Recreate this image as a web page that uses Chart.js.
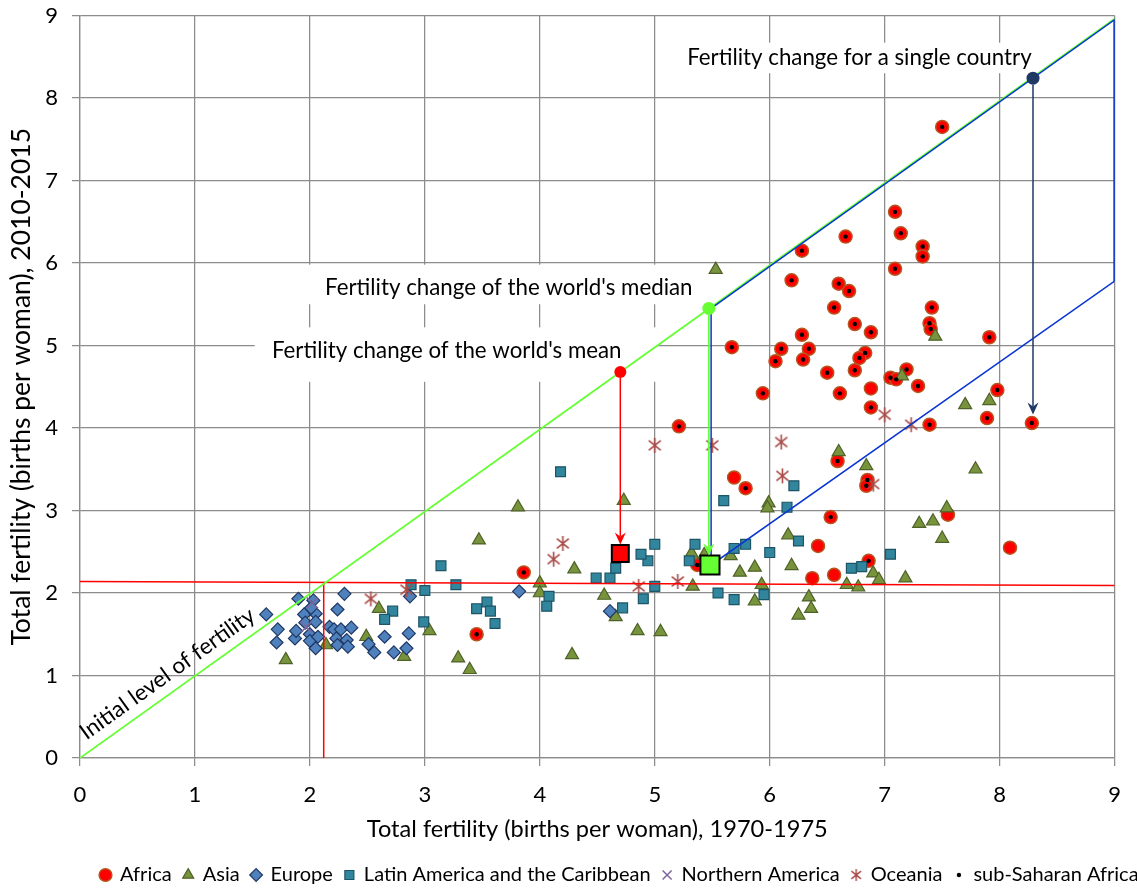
<!DOCTYPE html>
<html>
<head>
<meta charset="utf-8">
<script src="https://cdn.jsdelivr.net/npm/chart.js@4.4.1/dist/chart.umd.min.js"></script>
<style>
  html, body { margin: 0; padding: 0; background: #fff; }
  #wrap { width: 1137px; height: 888px; }
</style>
</head>
<body>
<div id="wrap"><canvas id="chart" width="1137" height="888"></canvas></div>
<script>
// ---- Axis ticks -------------------------------------------------------
const xTicks = [0, 1, 2, 3, 4, 5, 6, 7, 8, 9];
const yTicks = [0, 1, 2, 3, 4, 5, 6, 7, 8, 9];

// ---- Countries: [TFR 1970-1975, TFR 2010-2015] --------------------------
const africaSubSaharan = [
  [7.50, 7.65], [7.09, 6.62], [7.14, 6.36], [6.66, 6.32], [6.28, 6.15], [7.33, 6.20], [7.33, 6.08],
  [7.09, 5.93], [6.19, 5.79], [6.60, 5.75], [6.69, 5.66], [6.56, 5.46], [7.41, 5.46], [6.74, 5.26],
  [7.39, 5.27], [7.40, 5.20], [6.88, 5.16], [6.28, 5.13], [5.67, 4.98], [6.10, 4.96], [6.34, 4.96],
  [6.05, 4.81], [6.29, 4.83], [6.83, 4.91], [6.78, 4.85], [6.74, 4.70], [6.50, 4.67], [7.05, 4.61],
  [7.10, 4.59], [7.19, 4.71], [7.29, 4.51], [5.94, 4.42], [6.61, 4.42], [6.88, 4.25], [5.21, 4.02],
  [7.39, 4.04], [7.91, 5.10], [7.98, 4.46], [7.89, 4.12], [8.28, 4.06], [6.59, 3.60], [6.85, 3.37],
  [6.84, 3.30], [5.79, 3.27], [6.53, 2.92], [6.86, 2.39], [5.37, 2.34], [3.86, 2.25], [3.45, 1.50]
];
const africaNorthern = [
  [6.88, 4.48], [5.69, 3.40], [6.42, 2.57], [6.37, 2.18], [6.56, 2.22], [7.55, 2.95], [8.09, 2.55]
];
const asia = [
  [5.53, 5.92], [7.44, 5.11], [7.15, 4.63], [7.70, 4.28], [7.91, 4.33], [7.79, 3.50], [6.60, 3.71],
  [6.84, 3.54], [7.54, 3.03], [7.30, 2.84], [7.42, 2.87], [7.50, 2.66], [5.99, 3.09], [5.98, 3.03],
  [4.73, 3.12], [3.81, 3.04], [3.47, 2.64], [4.30, 2.29], [6.16, 2.70], [6.19, 2.33], [6.34, 1.95],
  [6.36, 1.81], [6.25, 1.73], [6.67, 2.10], [6.77, 2.07], [6.90, 2.24], [6.95, 2.16], [7.18, 2.18],
  [5.87, 2.31], [5.74, 2.25], [5.93, 2.10], [5.87, 1.90], [5.32, 2.48], [5.43, 2.46], [5.66, 2.45],
  [5.33, 2.08], [4.56, 1.97], [4.66, 1.71], [4.85, 1.54], [5.05, 1.53], [4.28, 1.25], [3.29, 1.21],
  [3.39, 1.07], [4.00, 2.12], [4.00, 2.00], [3.04, 1.54], [2.82, 1.23], [2.60, 1.81], [2.49, 1.47],
  [2.14, 1.37], [1.79, 1.19]
];
const europe = [
  [1.62, 1.74], [1.72, 1.56], [1.71, 1.40], [1.87, 1.45], [1.90, 1.93], [1.88, 1.54], [2.03, 1.91],
  [1.95, 1.74], [2.05, 1.75], [1.96, 1.64], [2.05, 1.65], [2.00, 1.50], [2.00, 1.42], [2.07, 1.47],
  [2.05, 1.33], [2.17, 1.59], [2.21, 1.56], [2.27, 1.56], [2.36, 1.58], [2.23, 1.45], [2.32, 1.43],
  [2.24, 1.37], [2.33, 1.35], [2.30, 1.99], [2.24, 1.80], [2.51, 1.38], [2.56, 1.28], [2.65, 1.47],
  [2.73, 1.28], [2.84, 1.33], [2.86, 1.51], [2.87, 1.96], [3.82, 2.02], [4.61, 1.78], [2.01, 1.82]
];
const latinAmerica = [
  [4.18, 3.47], [6.21, 3.30], [5.60, 3.12], [6.15, 3.04], [6.25, 2.63], [7.05, 2.47], [6.71, 2.30],
  [6.80, 2.32], [6.00, 2.49], [5.95, 1.98], [5.69, 1.92], [5.55, 2.00], [5.79, 2.59], [5.69, 2.54],
  [5.00, 2.59], [4.94, 2.39], [5.35, 2.59], [5.30, 2.39], [4.90, 1.93], [5.00, 2.08], [4.88, 2.47],
  [4.49, 2.18], [4.61, 2.18], [4.66, 2.30], [4.72, 1.82], [4.08, 1.96], [4.06, 1.84], [3.54, 1.89],
  [3.45, 1.81], [3.57, 1.78], [3.61, 1.63], [2.99, 1.65], [3.27, 2.10], [2.88, 2.10], [3.00, 2.03],
  [3.14, 2.33], [2.72, 1.78], [2.65, 1.68]
];
const northernAmerica = [[2.02, 1.88], [1.97, 1.59]];
const oceania = [
  [2.53, 1.93], [2.84, 2.04], [4.12, 2.41], [4.20, 2.60], [4.86, 2.08], [5.20, 2.14], [5.00, 3.79],
  [5.50, 3.79], [6.10, 3.83], [6.11, 3.42], [7.00, 4.16], [7.23, 4.04], [6.90, 3.32]
];

// ---- Summary changes: [start point, end point] -----------------------
const worldMean = [[4.70, 4.68], [4.70, 2.48]];
const worldMedian = [[5.47, 5.45], [5.48, 2.34]];
const singleCountry = [[8.29, 8.24], [8.29, 4.06]];

// ---- Reference lines -----------------------------------------------------
const initialLevelLine = [[0, 0], [9, 8.96]];
const replacementLevelH = [[0, 2.14], [9, 2.09]];
const replacementLevelV = [[2.12, 0], [2.12, 2.13]];
const medianBand = [[5.49, 5.45], [9, 8.95], [9, 5.78], [5.49, 2.34], [5.49, 5.45]];
const medianBandEdge = [[9, 8.95], [9, 5.78]];

const legendLabels = ['Africa', 'Asia', 'Europe', 'Latin America and the Caribbean',
  'Northern America', 'Oceania', 'sub-Saharan Africa'];

const FONT = 'Lato, "Open Sans", "DejaVu Sans", sans-serif';
const pts = arr => arr.map(([x, y]) => ({ x, y }));

// Excel-like asterisk marker (X with a vertical stroke)
function asterisk(size, color, lw) {
  const c = document.createElement('canvas');
  c.width = c.height = size;
  const g = c.getContext('2d');
  const m = size / 2, r = size / 2 - 1, d = r * 0.8;
  g.strokeStyle = color; g.lineWidth = lw; g.lineCap = 'butt';
  g.beginPath();
  g.moveTo(m, m - r); g.lineTo(m, m + r);
  g.moveTo(m - d, m - d * 0.8); g.lineTo(m + d, m + d * 0.8);
  g.moveTo(m + d, m - d * 0.8); g.lineTo(m - d, m + d * 0.8);
  g.stroke();
  return c;
}
function dot(size, radius, color) {
  const c = document.createElement('canvas');
  c.width = c.height = size;
  const g = c.getContext('2d');
  g.fillStyle = color;
  g.beginPath(); g.arc(size / 2, size / 2, radius, 0, Math.PI * 2); g.fill();
  return c;
}
const starChart = asterisk(17, '#A84A46', 1.6);
const starLegend = asterisk(14, '#A84A46', 1.4);
const dotLegend = dot(8, 2.2, '#000');

// ---- Arrows and text notes (layout) ----------------------------------
const arrows = [
  { series: worldMean, color: '#FF0000', width: 1.5, startGap: 6, endGap: 9 },
  { series: worldMedian, color: '#66FF33', width: 1.8, startGap: 6, endGap: 9.5 },
  { series: singleCountry, color: '#1F3864', width: 1.5, startGap: 6.5, endGap: 8.5 }
];
const notes = [
  { text: 'Fertility change for a single country', at: [6.78, 8.49], box: [5.24, 8.67, 8.33, 8.30] },
  { text: "Fertility change of the world's median", at: [3.73, 5.70], box: [1.91, 5.98, 5.35, 5.50] },
  { text: "Fertility change of the world's mean", at: [3.19, 4.93], box: [1.52, 5.22, 5.02, 4.56] }
];
const diagonalNote = { text: 'Initial level of fertility', at: [0.76, 1.02] };

const notesPlugin = {
  id: 'notes',
  beforeDatasetsDraw(chart) {
    const { ctx, scales: { x, y } } = chart;
    ctx.save();
    ctx.font = '22.3px ' + FONT;
    ctx.textAlign = 'center';
    ctx.textBaseline = 'middle';
    notes.forEach(n => {
      const [x0, y0, x1, y1] = n.box;
      const l = x.getPixelForValue(x0), t = y.getPixelForValue(y0);
      const r = x.getPixelForValue(x1), b = y.getPixelForValue(y1);
      ctx.fillStyle = '#fff';
      ctx.fillRect(l, t, r - l, b - t);
      ctx.fillStyle = '#000';
      ctx.fillText(n.text, x.getPixelForValue(n.at[0]), y.getPixelForValue(n.at[1]));
    });
    // rotated note along the diagonal
    const p0 = [x.getPixelForValue(initialLevelLine[0][0]), y.getPixelForValue(initialLevelLine[0][1])];
    const p1 = [x.getPixelForValue(initialLevelLine[1][0]), y.getPixelForValue(initialLevelLine[1][1])];
    const ang = Math.atan2(p1[1] - p0[1], p1[0] - p0[0]);
    ctx.translate(x.getPixelForValue(diagonalNote.at[0]), y.getPixelForValue(diagonalNote.at[1]));
    ctx.rotate(ang);
    ctx.font = '22.5px ' + FONT;
    ctx.fillText(diagonalNote.text, 0, 0);
    ctx.restore();
  },
  afterDatasetsDraw(chart) {
    const { ctx, scales: { x, y } } = chart;
    ctx.save();
    arrows.forEach(a => {
      const [s, e] = a.series;
      const x0 = x.getPixelForValue(s[0]), y0 = y.getPixelForValue(s[1]) + a.startGap;
      const x1 = x.getPixelForValue(s[0]), y1 = y.getPixelForValue(e[1]) - a.endGap;
      const len = 12, half = 5.5, notch = 4;
      ctx.strokeStyle = a.color; ctx.fillStyle = a.color; ctx.lineWidth = a.width;
      ctx.beginPath(); ctx.moveTo(x0, y0); ctx.lineTo(x1, y1 - len + notch); ctx.stroke();
      ctx.beginPath();
      ctx.moveTo(x1, y1);
      ctx.lineTo(x1 - half, y1 - len);
      ctx.lineTo(x1, y1 - len + notch);
      ctx.lineTo(x1 + half, y1 - len);
      ctx.closePath();
      ctx.fill();
    });
    ctx.restore();
  }
};

// legend row starts near the left edge of the plot and may run to the page edge
const legendPlace = {
  id: 'legendPlace',
  afterLayout(chart) {
    const lg = chart.legend;
    lg.left = 89;
    lg.right = 1400;
  }
};

const lineSet = (data, color, width, order) => ({
  label: '', data: pts(data), showLine: true, pointRadius: 0, pointHoverRadius: 0,
  borderColor: color, backgroundColor: color, borderWidth: width, fill: false, order
});
const markerSet = (point, style, radius, fill, border, bw, order) => ({
  label: '', data: pts([point]), pointStyle: style, pointRadius: radius, pointHoverRadius: radius,
  backgroundColor: fill, borderColor: border, borderWidth: bw, order
});

const datasets = [
  { label: legendLabels[0], data: pts(africaSubSaharan.concat(africaNorthern)), pointStyle: 'circle',
    pointRadius: 6.5, backgroundColor: '#FF0000', borderColor: '#B4561F', borderWidth: 1.5, order: 20 },
  { label: legendLabels[1], data: pts(asia), pointStyle: 'triangle', pointRadius: 7.5,
    backgroundColor: '#77933C', borderColor: '#4F6228', borderWidth: 1.2, order: 19 },
  { label: legendLabels[2], data: pts(europe), pointStyle: 'rectRot', pointRadius: 6.5,
    backgroundColor: '#4F81BD', borderColor: '#1F3864', borderWidth: 1.2, order: 18 },
  { label: legendLabels[3], data: pts(latinAmerica), pointStyle: 'rect', pointRadius: 7,
    backgroundColor: '#31859C', borderColor: '#1D5566', borderWidth: 1.2, order: 17 },
  { label: legendLabels[4], data: pts(northernAmerica), pointStyle: 'crossRot', pointRadius: 8,
    backgroundColor: '#7E649E', borderColor: '#7E649E', borderWidth: 1.5, order: 16 },
  { label: legendLabels[5], data: pts(oceania), pointStyle: starChart, pointRadius: 8,
    backgroundColor: '#A84A46', borderColor: '#A84A46', borderWidth: 1.5, order: 15, legendMarker: starLegend },
  { label: legendLabels[6], data: pts(africaSubSaharan), pointStyle: 'circle', pointRadius: 2.2,
    backgroundColor: '#000', borderColor: '#000', borderWidth: 0, order: 14, legendMarker: dotLegend },

  lineSet(replacementLevelH, '#FF0000', 1.5, 10),
  lineSet(replacementLevelV, '#FF0000', 1.5, 10),
  lineSet(initialLevelLine, '#66FF33', 1.8, 9),
  lineSet(medianBand, '#0a37d2', 1.5, 8),
  lineSet(medianBandEdge, '#0a37d2', 2.5, 8),

  markerSet(worldMean[0], 'circle', 6, '#FF0000', '#FF0000', 0, 2),
  markerSet(worldMean[1], 'rect', 12, '#FF0000', '#000', 2, 2),
  markerSet(worldMedian[0], 'circle', 6.5, '#66FF33', '#66FF33', 0, 2),
  markerSet(worldMedian[1], 'rect', 13.5, '#66FF33', '#000', 2, 2),
  markerSet(singleCountry[0], 'circle', 6.5, '#1F3864', '#1F3864', 0, 2)
];

const gridColor = '#8c8c8c';

new Chart(document.getElementById('chart'), {
  type: 'scatter',
  data: { datasets },
  options: {
    responsive: false,
    animation: false,
    events: [],
    layout: { padding: { top: 15, right: 20, left: 0, bottom: -7 } },
    scales: {
      x: {
        type: 'linear', min: 0, max: 9,
        afterBuildTicks: s => { s.ticks = xTicks.map(v => ({ value: v })); },
        afterFit: s => { s.height = 95; },
        ticks: { color: '#000', font: { family: FONT, size: 22 }, padding: 16, maxRotation: 0 },
        grid: { color: gridColor, lineWidth: 1.25, tickLength: 8 },
        border: { color: gridColor, width: 1.25 },
        title: { display: true, text: 'Total fertility (births per woman), 1970-1975', color: '#000',
          font: { family: FONT, size: 23.6 }, padding: { top: 0, bottom: 9 } }
      },
      y: {
        type: 'linear', min: 0, max: 9,
        afterBuildTicks: s => { s.ticks = yTicks.map(v => ({ value: v })); },
        afterFit: s => { s.width = 80; },
        ticks: { color: '#000', font: { family: FONT, size: 22, lineHeight: 0.05 }, padding: 14 },
        grid: { color: gridColor, lineWidth: 1.25, tickLength: 8 },
        border: { color: gridColor, width: 1.25 },
        title: { display: true, text: 'Total fertility (births per woman), 2010-2015', color: '#000',
          font: { family: FONT, size: 26.5 }, padding: { top: 6, bottom: 0 } }
      }
    },
    plugins: {
      tooltip: { enabled: false },
      legend: {
        display: true,
        position: 'bottom',
        align: 'start',
        labels: {
          usePointStyle: true,
          boxWidth: 9, boxHeight: 9,
          padding: 12,
          color: '#000',
          font: { family: FONT, size: 20 },
          filter: item => item.datasetIndex < legendLabels.length,
          sort: (a, b) => a.datasetIndex - b.datasetIndex,
          generateLabels(chart) {
            const items = Chart.defaults.plugins.legend.labels.generateLabels(chart);
            items.forEach(it => {
              const ds = chart.data.datasets[it.datasetIndex];
              if (ds.legendMarker) it.pointStyle = ds.legendMarker;
            });
            return items;
          }
        }
      }
    }
  },
  plugins: [notesPlugin, legendPlace]
});
</script>
</body>
</html>
